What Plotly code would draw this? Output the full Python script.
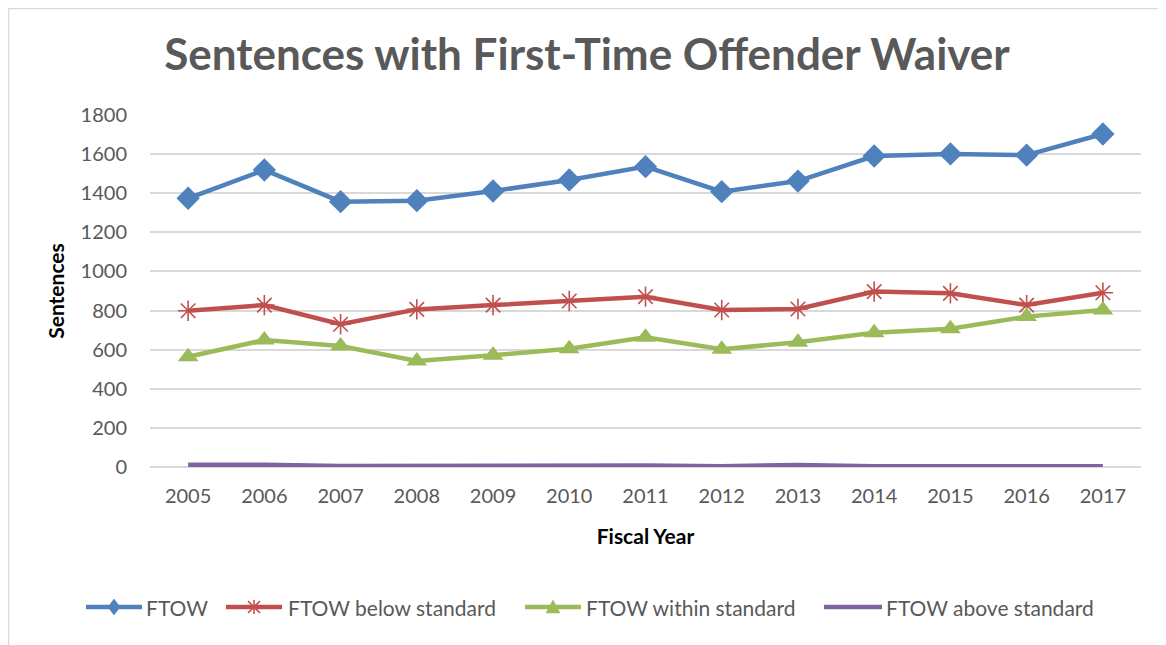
import plotly.graph_objects as go

years = ["2005", "2006", "2007", "2008", "2009", "2010", "2011",
         "2012", "2013", "2014", "2015", "2016", "2017"]

ftow = [1374, 1519, 1357, 1362, 1411, 1468, 1536, 1408, 1462, 1590, 1601, 1595, 1703]
ftow_below = [799, 828, 730, 806, 828, 849, 871, 803, 808, 897, 888, 828, 891]
ftow_within = [564, 649, 619, 542, 571, 605, 663, 602, 638, 687, 707, 769, 803]
ftow_above = [12, 12, 5, 7, 7, 10, 8, 4, 10, 4, 4, 3, 4]

series_names = ["FTOW", "FTOW below standard", "FTOW within standard", "FTOW above standard"]
series_colors = ["#4F81BD", "#C0504D", "#9BBB59", "#8064A2"]

text_color = "#595959"
font_family = "Lato, 'Open Sans', sans-serif"

# page has an 8px body margin; geometry below is in page pixels
W, H = 1158, 637
L, R, T, B = 142, 25, 107, 178
PW, PH = W - L - R, H - T - B


def px_x(x):
    return (x - 8 - L) / PW


def px_y(y):
    return (T + PH - (y - 8)) / PH


fig = go.Figure()

fig.add_trace(go.Scatter(
    x=years, y=ftow, name=series_names[0], mode="lines+markers",
    line=dict(color=series_colors[0], width=4.5),
    marker=dict(symbol="diamond", size=18, color=series_colors[0]),
    cliponaxis=False, showlegend=False
))
fig.add_trace(go.Scatter(
    x=years, y=ftow_below, name=series_names[1], mode="lines+markers",
    line=dict(color=series_colors[1], width=4.5),
    marker=dict(symbol="asterisk-open", size=17, color=series_colors[1],
                line=dict(color=series_colors[1], width=1.6)),
    cliponaxis=False, showlegend=False
))
fig.add_trace(go.Scatter(
    x=years, y=ftow_within, name=series_names[2], mode="lines+markers",
    line=dict(color=series_colors[2], width=4.5),
    marker=dict(symbol="triangle-up", size=18, color=series_colors[2]),
    cliponaxis=False, showlegend=False
))
fig.add_trace(go.Scatter(
    x=years, y=ftow_above, name=series_names[3], mode="lines",
    line=dict(color=series_colors[3], width=4.5),
    cliponaxis=False, showlegend=False
))

# hand-made legend (Excel style: long line with marker in the middle)
legend_y = 607
icon_spans = [(86, 142), (226, 282), (525, 581), (824, 882)]
text_starts = [144, 286, 584, 884]
# pixel paths, y pointing up
marker_paths = [
    "M0,8 L6,0 L0,-8 L-6,0 Z",
    "M-6,-6 L6,6 M-6,6 L6,-6 M0,-7 L0,7",
    "M0,7 L7,-6 L-7,-6 Z",
    None,
]

shapes = [dict(
    type="rect", xref="paper", yref="paper",
    x0=px_x(8.5), x1=px_x(1200), y0=px_y(700), y1=px_y(8.5),
    line=dict(color="#D9D9D9", width=1.5), fillcolor="rgba(0,0,0,0)",
    layer="below"
)]
annotations = []
for name, color, (x0, x1), tx, path in zip(series_names, series_colors,
                                           icon_spans, text_starts, marker_paths):
    shapes.append(dict(
        type="line", xref="paper", yref="paper",
        x0=px_x(x0), x1=px_x(x1), y0=px_y(legend_y), y1=px_y(legend_y),
        line=dict(color=color, width=4.5)
    ))
    if path:
        is_star = "Z" not in path
        shapes.append(dict(
            type="path", xref="paper", yref="paper",
            xsizemode="pixel", ysizemode="pixel",
            xanchor=px_x((x0 + x1) / 2), yanchor=px_y(legend_y),
            path=path,
            line=dict(color=color, width=1.6 if is_star else 0.5),
            fillcolor="rgba(0,0,0,0)" if is_star else color
        ))
    annotations.append(dict(
        text=name, xref="paper", yref="paper",
        x=px_x(tx), y=px_y(legend_y), xanchor="left", yanchor="middle",
        showarrow=False, font=dict(size=21, color=text_color, family=font_family)
    ))

fig.update_layout(
    width=W, height=H,
    margin=dict(l=L, r=R, t=T, b=B),
    paper_bgcolor="white", plot_bgcolor="white",
    font=dict(family=font_family, color=text_color, size=20),
    title=dict(
        text="<b>Sentences with First-Time Offender Waiver</b>",
        x=0.5, xanchor="center", y=1 - 47 / H, yanchor="middle",
        font=dict(size=44, color=text_color, family=font_family)
    ),
    xaxis=dict(
        type="category", range=[-0.5, 12.5],
        showgrid=False, showline=False, ticks="",
        ticklabelstandoff=15,
        tickfont=dict(size=20, color=text_color),
        title=dict(text="<b>Fiscal Year</b>", font=dict(size=21, color="black"), standoff=23)
    ),
    yaxis=dict(
        range=[0, 1800], dtick=200,
        showgrid=True, gridcolor="#D9D9D9", gridwidth=1.5,
        zeroline=True, zerolinecolor="#D9D9D9", zerolinewidth=1.5,
        showline=False, ticks="",
        ticklabelstandoff=22,
        tickfont=dict(size=20, color=text_color),
        title=dict(text="<b>Sentences</b>", font=dict(size=21, color="black"), standoff=10)
    ),
    showlegend=False,
    shapes=shapes,
    annotations=annotations
)

fig.write_html("out.html")
